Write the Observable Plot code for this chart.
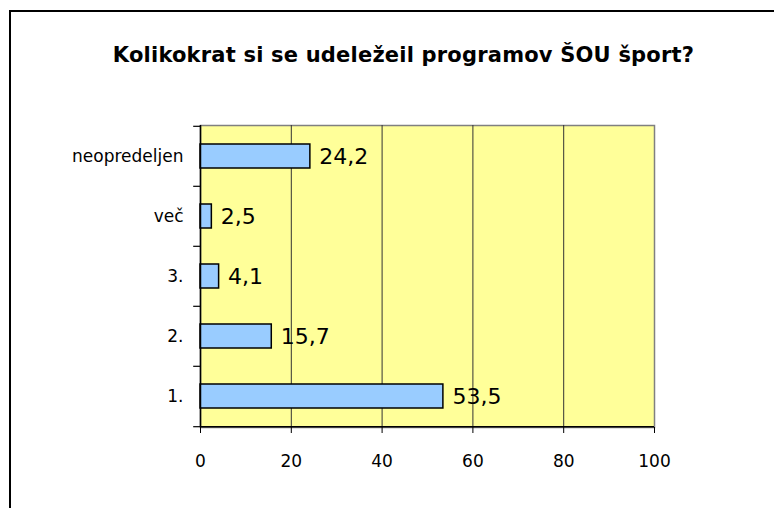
<!DOCTYPE html>
<html>
<head>
<meta charset="utf-8">
<script src="https://cdn.jsdelivr.net/npm/d3@7"></script>
<script src="https://cdn.jsdelivr.net/npm/@observablehq/plot@0.6"></script>
<style>
  html, body { margin: 0; padding: 0; background: #fff; }
  #wrap { position: relative; width: 774px; height: 508px; overflow: hidden; background: #fff; }
  #frame { position: absolute; left: 9px; top: 10px; width: 900px; height: 700px; border-left: 2px solid #000; border-top: 2px solid #000; }
  #title { position: absolute; left: 11px; width: 785px; top: 43px; text-align: center; font-family: "DejaVu Sans", sans-serif; font-weight: 700; font-size: 21px; letter-spacing: 0.2px; line-height: 25px; color: #000; white-space: nowrap; }
  #chart { position: absolute; left: 0; top: 100px; }
</style>
</head>
<body>
<div id="wrap">
  <div id="frame"></div>
  <div id="title">Kolikokrat si se udeležeil programov ŠOU šport?</div>
  <div id="chart"></div>
</div>
<script>
const categories = ["neopredeljen", "več", "3.", "2.", "1."];
const values = [24.2, 2.5, 4.1, 15.7, 53.5];
const xTicks = [0, 20, 40, 60, 80, 100];

const data = categories.map((c, i) => ({cat: c, val: values[i]}));
const fmt = v => v.toFixed(1).replace(".", ",");

const plotH = 427 - 125;
const step = plotH / categories.length;
const font = "'DejaVu Sans', sans-serif";

const chart = Plot.plot({
  width: 774,
  height: 408,
  marginLeft: 200,
  marginRight: 120,
  marginTop: 25,
  marginBottom: 81,
  style: {fontFamily: font, background: "transparent", color: "#000"},
  x: {domain: [0, 100], ticks: xTicks},
  y: {domain: categories, paddingInner: 0.6, paddingOuter: 0.3, label: null},
  marks: [
    Plot.frame({fill: "#FFFF99", stroke: "#808080", strokeWidth: 1.5}),
    Plot.gridX(xTicks.filter(t => t > 0 && t < 100), {stroke: "#333", strokeOpacity: 1, strokeWidth: 1}),
    Plot.barX(data, {y: "cat", x: "val", fill: "#99CCFF", stroke: "#000", strokeWidth: 1.5}),
    Plot.text(data, {y: "cat", x: "val", text: d => fmt(d.val), textAnchor: "start", dx: 9, fontSize: 22, fill: "#000"}),
    Plot.ruleX([0], {stroke: "#000", strokeWidth: 1.5}),
    Plot.ruleY(categories, {y: d => d, x1: -1.5, x2: 0, dy: -step / 2, stroke: "#000", strokeWidth: 1.2}),
    Plot.ruleY(["1."], {y: d => d, x1: -1.5, x2: 0, dy: step / 2, stroke: "#000", strokeWidth: 1.2}),
    Plot.axisX({ticks: xTicks, tickSize: 6, tickPadding: 21, fontSize: 17, label: null, stroke: "#000"}),
    Plot.axisY({tickSize: 0, tickPadding: 17, fontSize: 17, label: null}),
    Plot.ruleY([0], {y: () => "1.", dy: step / 2, x1: 0, x2: 100, stroke: "#000", strokeWidth: 1.5})
  ]
});
document.getElementById("chart").appendChild(chart);
</script>
</body>
</html>
